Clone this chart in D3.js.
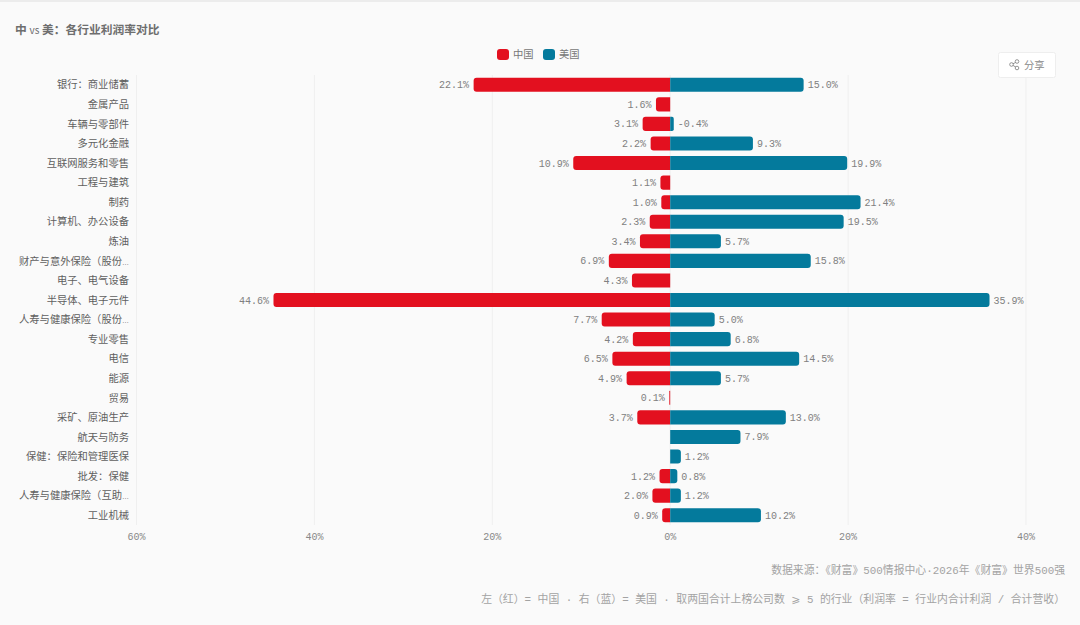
<!DOCTYPE html>
<html>
<head>
<meta charset="utf-8">
<script src="https://cdn.jsdelivr.net/npm/d3@7"></script>
<style>
  html, body { margin: 0; padding: 0; background: #fafafa; }
  svg { display: block; }
  .mono { font-family: "Liberation Mono", "Noto Sans CJK SC", "DejaVu Sans", monospace; }
  .cjk { font-family: "Noto Sans CJK SC", sans-serif; }
</style>
</head>
<body>
<svg id="chart" width="1080" height="625"></svg>
<script>
var categories = ["银行：商业储蓄", "金属产品", "车辆与零部件", "多元化金融", "互联网服务和零售", "工程与建筑", "制药",
  "计算机、办公设备", "炼油", "财产与意外保险（股份…", "电子、电气设备", "半导体、电子元件", "人寿与健康保险（股份…",
  "专业零售", "电信", "能源", "贸易", "采矿、原油生产", "航天与防务", "保健：保险和管理医保", "批发：保健",
  "人寿与健康保险（互助…", "工业机械"];
var chinaValues = [22.1, 1.6, 3.1, 2.2, 10.9, 1.1, 1.0, 2.3, 3.4, 6.9, 4.3, 44.6, 7.7, 4.2, 6.5, 4.9, 0.1, 3.7, null, null, 1.2, 2.0, 0.9];
var usValues = [15.0, null, -0.4, 9.3, 19.9, null, 21.4, 19.5, 5.7, 15.8, null, 35.9, 5.0, 6.8, 14.5, 5.7, null, 13.0, 7.9, 1.2, 0.8, 1.2, 10.2];
var xTicks = [-60, -40, -20, 0, 20, 40];
var legendItems = ["中国", "美国"];

var red = "#e3101f";
var blue = "#047a9c";

var svg = d3.select("#chart");

var xScale = d3.scaleLinear().domain([-60, 40]).range([136.5, 1026]);
var yScale = d3.scaleBand().domain(categories).range([75, 525]).paddingInner(0.28).paddingOuter(0.14);

svg.append("rect").attr("x", 0).attr("y", 0).attr("width", 1080).attr("height", 2).attr("fill", "#ececec");

// title, the latin part is set lighter
var title = svg.append("text").attr("class", "cjk").attr("x", 15).attr("y", 34)
  .attr("font-size", 11.75).attr("font-weight", 700).attr("fill", "#6e6e6e");
title.append("tspan").text("中 ");
title.append("tspan").attr("font-weight", 400).attr("font-size", 10).text("vs");
title.append("tspan").text(" 美：各行业利润率对比");

// legend
var legendX = [497, 543];
legendItems.forEach(function(name, i){
  svg.append("rect").attr("x", legendX[i]).attr("y", 49).attr("width", 12).attr("height", 11).attr("rx", 3)
    .attr("fill", i == 0 ? red : blue);
  svg.append("text").attr("class", "cjk").attr("x", legendX[i] + 16).attr("y", 58)
    .attr("font-size", 10.3).attr("fill", "#777").text(name);
});

// grid
var gridG = svg.append("g");
gridG.selectAll("line").data(xTicks).enter().append("line")
  .attr("x1", function(d){ return xScale(d); })
  .attr("x2", function(d){ return xScale(d); })
  .attr("y1", 75).attr("y2", 525)
  .attr("stroke", "#efefef").attr("stroke-width", 1);

// y axis, only the labels are shown
var yAxis = d3.axisLeft(yScale).tickSize(0).tickPadding(0);
var yG = svg.append("g").attr("transform", "translate(129,0.4)").call(yAxis);
yG.select(".domain").remove();
yG.selectAll("text").attr("font-size", 10.3).attr("fill", "#5f5f5f").style("font-family", "'Noto Sans CJK SC'")
  .each(function(d){
    // the cut-off mark is drawn small, the way the original renders it
    if (d.slice(-1) == "…"){
      var t = d3.select(this).text(d.slice(0, -1));
      t.append("tspan").attr("font-size", 7).attr("font-family", "'Liberation Sans'").text("…");
    }
  });

// x axis
var xAxis = d3.axisBottom(xScale).tickValues(xTicks).tickSize(0).tickPadding(0)
  .tickFormat(function(d){ return Math.abs(d) + "%"; });
var xG = svg.append("g").attr("transform", "translate(-0.5,532.5)").call(xAxis);
xG.select(".domain").remove();
xG.selectAll("text").attr("font-size", 10).attr("fill", "#888").style("font-family", "'Liberation Mono'");

// rounded on the outer end only
function barPath(x0, x1, y, h, r){
  var dir = x1 > x0 ? 1 : -1;
  r = Math.min(r, Math.abs(x1 - x0) / 2);
  return "M" + x0 + "," + y + "H" + (x1 - dir * r) +
    "Q" + x1 + "," + y + " " + x1 + "," + (y + r) +
    "V" + (y + h - r) +
    "Q" + x1 + "," + (y + h) + " " + (x1 - dir * r) + "," + (y + h) +
    "H" + x0 + "Z";
}

categories.forEach(function(cat, i){
  var y = yScale(cat);
  var h = yScale.bandwidth();
  var cy = y + h / 2 + 3.5;
  if (chinaValues[i] != null){
    svg.append("path").attr("d", barPath(xScale(0), xScale(-chinaValues[i]), y, h, 3)).attr("fill", red);
    svg.append("text").attr("class", "mono").attr("x", xScale(-chinaValues[i]) - 4.5).attr("y", cy)
      .attr("text-anchor", "end").attr("font-size", 10).attr("fill", "#808080").text(chinaValues[i].toFixed(1) + "%");
  }
  if (usValues[i] != null){
    var xEnd = xScale(Math.abs(usValues[i]));
    svg.append("path").attr("d", barPath(xScale(0), xEnd, y, h, 3)).attr("fill", blue);
    svg.append("text").attr("class", "mono").attr("x", xEnd + 4).attr("y", cy)
      .attr("font-size", 10).attr("fill", "#808080").text(usValues[i].toFixed(1) + "%");
  }
});

// share button
svg.append("rect").attr("x", 998.5).attr("y", 52.5).attr("width", 57).attr("height", 25).attr("rx", 2)
  .attr("fill", "#fff").attr("stroke", "#eee");
var shareG = svg.append("g").attr("fill", "none").attr("stroke", "#888").attr("stroke-width", 0.9);
shareG.append("path").attr("d", "M1016.5,62 L1011.5,64.5 L1016.5,67.5");
shareG.append("circle").attr("cx", 1017).attr("cy", 61.5).attr("r", 1.8).attr("fill", "#fff");
shareG.append("circle").attr("cx", 1011.5).attr("cy", 64.5).attr("r", 1.8).attr("fill", "#fff");
shareG.append("circle").attr("cx", 1017).attr("cy", 68).attr("r", 1.8).attr("fill", "#fff");
svg.append("text").attr("class", "cjk").attr("x", 1024).attr("y", 69)
  .attr("font-size", 10.3).attr("fill", "#888").text("分享");

// footer notes
svg.append("text").attr("class", "mono").attr("x", 1065).attr("y", 574).attr("text-anchor", "end")
  .attr("font-size", 10.85).attr("fill", "#a3a3a3").text("数据来源：《财富》500情报中心·2026年《财富》世界500强");
svg.append("text").attr("class", "mono").attr("x", 1065).attr("y", 603).attr("text-anchor", "end")
  .attr("font-size", 10.85).attr("fill", "#a3a3a3").text("左（红）= 中国 · 右（蓝）= 美国 · 取两国合计上榜公司数 ⩾ 5 的行业（利润率 = 行业内合计利润 / 合计营收）");
</script>
</body>
</html>
